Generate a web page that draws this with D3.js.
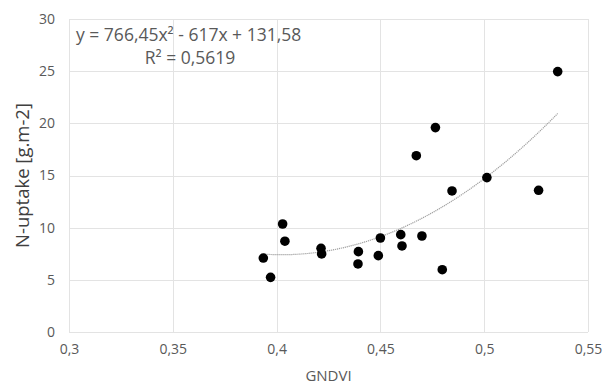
<!DOCTYPE html>
<html>
<head>
<meta charset="utf-8">
<script src="https://cdn.jsdelivr.net/npm/d3@7"></script>
<style>
  body { margin: 0; background: #fff; }
  text { font-family: "Open Sans", "Noto Sans", sans-serif; }
</style>
</head>
<body>
<script>
// GNDVI vs N-uptake
const gndvi = [0.3936, 0.3971, 0.4029, 0.4040, 0.4214, 0.4217, 0.4394, 0.4392, 0.4500, 0.4490,
  0.4598, 0.4604, 0.4700, 0.4798, 0.4765, 0.4673, 0.4845, 0.5013, 0.5262, 0.5354];
const uptake = [7.09, 5.24, 10.35, 8.70, 8.02, 7.48, 7.70, 6.52, 9.01, 7.32,
  9.33, 8.25, 9.20, 5.97, 19.59, 16.90, 13.52, 14.80, 13.58, 24.96];

// trendline coefficients (a, b, c) as printed on the chart
const trendCoef = [766.45, -617, 131.58];
const xTicks = [0.3, 0.35, 0.4, 0.45, 0.5, 0.55];
const yTicks = [0, 5, 10, 15, 20, 25, 30];

const width = 603;
const height = 384;
const marginTop = 19;
const marginRight = 15;
const marginBottom = 52;
const marginLeft = 69;

const points = gndvi.map((g, i) => ({ x: g, y: uptake[i] }));

const x = d3.scaleLinear()
  .domain([0.3, 0.55])
  .range([marginLeft, width - marginRight]);

const y = d3.scaleLinear()
  .domain([0, 30])
  .range([height - marginBottom, marginTop]);

const svg = d3.create("svg")
  .attr("width", width)
  .attr("height", height);

const fmt = d => String(d).replace(".", ",");

// gridlines
svg.append("g")
  .attr("stroke", "#e3e3e3")
  .attr("stroke-width", 1)
  .selectAll("line.v")
  .data(xTicks)
  .join("line")
  .attr("x1", d => Math.round(x(d)) + 0.5)
  .attr("x2", d => Math.round(x(d)) + 0.5)
  .attr("y1", y(30))
  .attr("y2", y(0));

svg.append("g")
  .attr("stroke", "#e3e3e3")
  .attr("stroke-width", 1)
  .selectAll("line.h")
  .data(yTicks)
  .join("line")
  .attr("x1", x(0.3))
  .attr("x2", x(0.55))
  .attr("y1", d => Math.round(y(d)) + 0.5)
  .attr("y2", d => Math.round(y(d)) + 0.5);

// axes, labels only
const xAxis = svg.append("g")
  .attr("transform", `translate(0,${height - marginBottom})`)
  .call(d3.axisBottom(x).tickValues(xTicks).tickFormat(fmt).tickSize(0).tickPadding(12));
xAxis.select(".domain").remove();
xAxis.selectAll("text").attr("font-size", 14).attr("fill", "#595959")
  .attr("font-family", "Open Sans, Noto Sans, sans-serif");

const yAxis = svg.append("g")
  .attr("transform", `translate(${marginLeft},0)`)
  .call(d3.axisLeft(y).tickValues(yTicks).tickFormat(fmt).tickSize(0).tickPadding(14));
yAxis.select(".domain").remove();
yAxis.selectAll("text").attr("font-size", 14).attr("fill", "#595959")
  .attr("font-family", "Open Sans, Noto Sans, sans-serif");

// axis titles
svg.append("text")
  .attr("x", (x(0.3) + x(0.55)) / 2)
  .attr("y", 381)
  .attr("text-anchor", "middle")
  .attr("font-size", 15)
  .attr("fill", "#595959")
  .text("GNDVI");

svg.append("text")
  .attr("transform", `translate(29,${(y(0) + y(30)) / 2}) rotate(-90)`)
  .attr("text-anchor", "middle")
  .attr("font-size", 18.5)
  .attr("fill", "#404040")
  .text("N-uptake [g.m-2]");

// trendline
const [a, b, c] = trendCoef;
const xMin = d3.min(gndvi), xMax = d3.max(gndvi);
const trend = d3.range(0, 61).map(i => {
  const xv = xMin + (xMax - xMin) * i / 60;
  return { x: xv, y: a * xv * xv + b * xv + c };
});
svg.append("path")
  .attr("fill", "none")
  .attr("stroke", "#a0a0a0")
  .attr("stroke-width", 1.2)
  .attr("stroke-dasharray", "1.2,0.8")
  .attr("d", d3.line().x(d => x(d.x)).y(d => y(d.y)).curve(d3.curveMonotoneX)(trend));

// dots
svg.append("g")
  .attr("fill", "#000")
  .selectAll("circle")
  .data(points)
  .join("circle")
  .attr("cx", d => x(d.x))
  .attr("cy", d => y(d.y))
  .attr("r", 4.8);

// equation label
svg.append("text")
  .attr("x", 76)
  .attr("y", 41)
  .attr("font-size", 17.5)
  .attr("fill", "#595959")
  .text("y = 766,45x² - 617x + 131,58");

svg.append("text")
  .attr("x", 190)
  .attr("y", 64)
  .attr("text-anchor", "middle")
  .attr("font-size", 17.5)
  .attr("fill", "#595959")
  .text("R² = 0,5619");

document.body.appendChild(svg.node());
</script>
</body>
</html>
